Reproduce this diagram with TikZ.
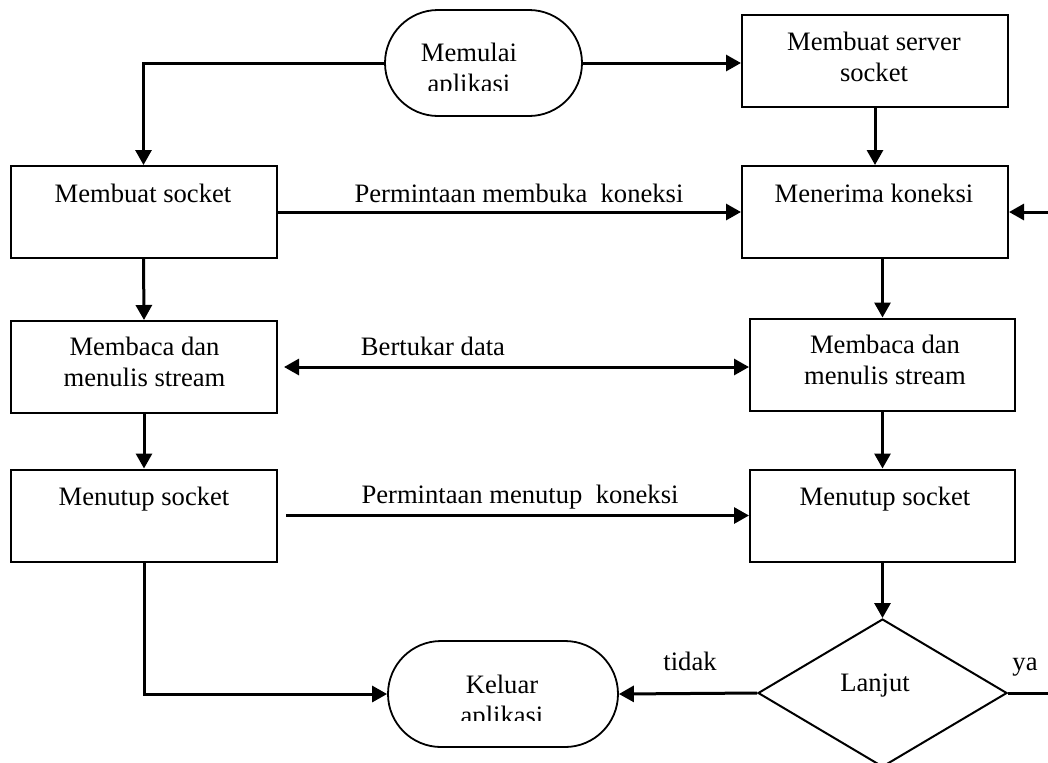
\documentclass[tikz,border=0pt]{standalone}
\usepackage{fontspec}
\setmainfont{Liberation Serif}
\usetikzlibrary{arrows.meta,shapes.geometric}
\begin{document}
\begin{tikzpicture}[x=0.5pt,y=-0.5pt,
  box/.style={draw,line width=1pt,rectangle,minimum width=133pt,minimum height=46pt,inner sep=0pt},
  term/.style={draw,line width=0.9pt,rectangle,rounded corners=26.5pt,minimum height=53pt,inner sep=0pt},
  decision/.style={draw,line width=1pt,diamond,minimum width=124.5pt,minimum height=74pt,inner sep=0pt},
  txt/.style={anchor=base,inner sep=0pt,font=\fontsize{13.3pt}{15.5pt}\selectfont},
  conn/.style={line width=1.5pt,-{Triangle[length=7.5pt,width=8pt]}},
  both/.style={line width=1.5pt,{Triangle[length=7.5pt,width=8pt]}-{Triangle[length=7.5pt,width=8pt]}},
  plain/.style={line width=1.5pt},
]
\path[use as bounding box] (0,0) rectangle (1048,762);
\clip (0,0) rectangle (1048,762);

% shapes
\node[term,minimum width=98.5pt] (MA) at (483.5,63) {};
\node[box] (SS) at (875,61) {};
\node[box] (MS) at (143.5,212) {};
\node[box] (MK) at (875,212) {};
\node[box] (BL) at (144,367) {};
\node[box,minimum width=132.5pt] (BR) at (882.5,364.5) {};
\node[box] (TL) at (144,515.5) {};
\node[box,minimum width=132.5pt] (TR) at (882.5,515.5) {};
\node[term,minimum width=115pt] (KA) at (503,694) {};
\node[decision] (LJ) at (882.5,693) {};

% texts in shapes
\begin{scope}
  \clip (385,10) rectangle (582,90);
  \node[txt] (MAa) at (469,61) {Memulai};
  \node[txt] (MAb) at (469,92) {aplikasi};
\end{scope}
\begin{scope}
  \clip (388,641) rectangle (618,720);
  \node[txt] (KAa) at (502,693) {Keluar};
  \node[txt] (KAb) at (502,724) {aplikasi};
\end{scope}
\node[txt] (SSa) at (874,50) {Membuat server};
\node[txt] (SSb) at (874,81) {socket};
\node[txt] (MSa) at (143,202) {Membuat socket};
\node[txt] (MKa) at (874,202) {Menerima koneksi};
\node[txt] (BLa) at (144.5,355) {Membaca dan};
\node[txt] (BLb) at (144.5,386) {menulis stream};
\node[txt] (BRa) at (885,353) {Membaca dan};
\node[txt] (BRb) at (885,384) {menulis stream};
\node[txt] (TLa) at (144,505) {Menutup socket};
\node[txt] (TRa) at (885,505) {Menutup socket};
\node[txt] (LJa) at (875,691) {Lanjut};

% connector labels
\node[txt] (L1) at (519,202) {Permintaan membuka\ \ koneksi};
\node[txt] (L2) at (433,355) {Bertukar data};
\node[txt] (L3) at (520,503) {Permintaan menutup\ \ koneksi};
\node[txt] (L4) at (690,670) {tidak};
\node[txt] (L5) at (1025,670) {ya};

% connectors
\coordinate (loop) at (1070,693);
\draw[conn] (MA.west) -| (MS.north);
\draw[conn] (MA.east) -- (MA.east -| SS.west);
\draw[conn] (SS.south) -- (MK.north);
\draw[conn] (MS.east) -- (MK.west);
\draw[conn] (MS.south) -- (BL.north);
\draw[conn] (MK.south -| BR.north) -- (BR.north);
\draw[both,shorten <=3pt] (BL.east) -- (BL.east -| BR.west);
\draw[conn] (BL.south) -- (TL.north);
\draw[conn] (BR.south) -- (TR.north);
\draw[conn,shorten <=4pt] (TL.east) -- (TL.east -| TR.west);
\draw[conn] (TL.south) |- (KA.west);
\draw[conn] (TR.south) -- (LJ.north);
\draw[conn] (LJ.west) -- (KA.east);
\draw[conn] (LJ.east) -| (loop) |- (MK.east);
\end{tikzpicture}
\end{document}
